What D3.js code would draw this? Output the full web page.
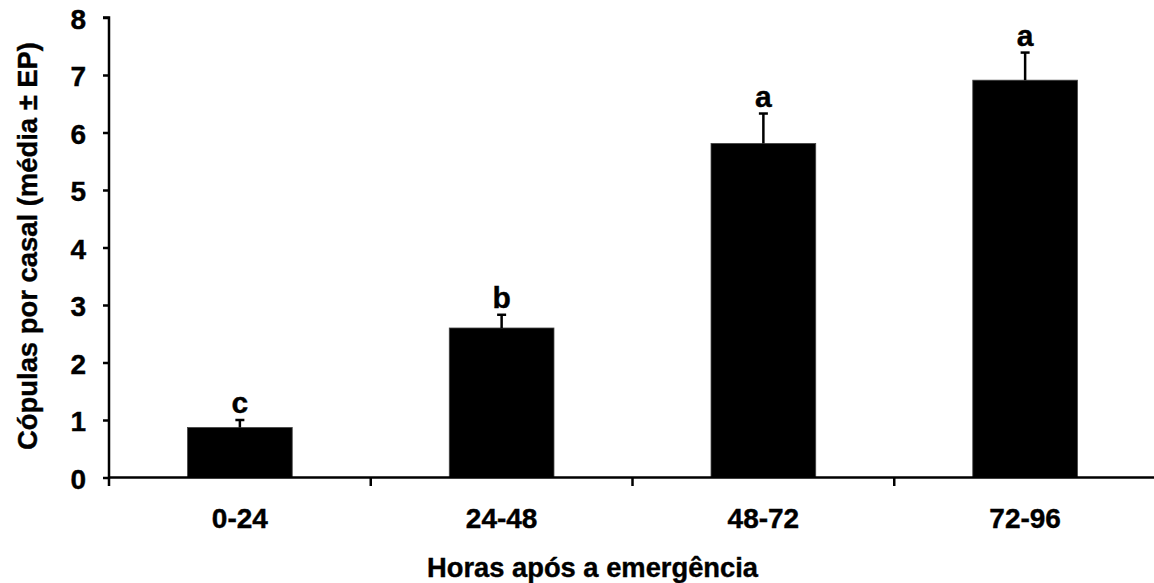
<!DOCTYPE html>
<html>
<head>
<meta charset="utf-8">
<script src="https://cdn.jsdelivr.net/npm/d3@7"></script>
<style>
  html, body { margin: 0; padding: 0; background: #fff; }
  svg { display: block; }
  text { font-family: "Liberation Sans", Arial, sans-serif; font-weight: bold; fill: #000; }
</style>
</head>
<body>
<svg id="chart" width="1154" height="583"></svg>
<script>
const categories = ["0-24", "24-48", "48-72", "72-96"];
const means = [0.87, 2.6, 5.81, 6.91];
const errors = [0.13, 0.23, 0.52, 0.48];
const letters = ["c", "b", "a", "a"];
const yTicks = [0, 1, 2, 3, 4, 5, 6, 7, 8];
const xTitle = "Horas após a emergência";
const yTitle = "Cópulas por casal (média ± EP)";

const data = categories.map((c, i) => ({ cat: c, mean: means[i], err: errors[i], letter: letters[i] }));

const svg = d3.select("#chart");
const plotLeft = 109, plotRight = 1156, plotTop = 17.5, plotBottom = 477.5;

const x = d3.scaleBand().domain(categories).range([plotLeft, plotRight]).paddingInner(0.6).paddingOuter(0.3);
const y = d3.scaleLinear().domain([0, 8]).range([plotBottom, plotTop]);

// bars
svg.append("g").selectAll("rect").data(data).join("rect")
  .attr("x", d => x(d.cat))
  .attr("y", d => y(d.mean))
  .attr("width", x.bandwidth())
  .attr("height", d => y(0) - y(d.mean))
  .attr("fill", "#000")
  .attr("stroke", "#444")
  .attr("stroke-width", 0.8);

// error bars
const eg = svg.append("g").attr("stroke", "#000").attr("stroke-width", 2.5);
data.forEach(d => {
  const cx = x(d.cat) + x.bandwidth() / 2;
  eg.append("line").attr("x1", cx).attr("x2", cx).attr("y1", y(d.mean)).attr("y2", y(d.mean + d.err));
  eg.append("line").attr("x1", cx - 4.5).attr("x2", cx + 4.5).attr("y1", y(d.mean + d.err)).attr("y2", y(d.mean + d.err));
});

// significance letters
svg.append("g").selectAll("text").data(data).join("text")
  .attr("x", d => x(d.cat) + x.bandwidth() / 2)
  .attr("y", d => y(d.mean + d.err) - 7)
  .attr("text-anchor", "middle")
  .style("font-size", "30px")
  .style("stroke", "#000").style("stroke-width", "0.4px")
  .text(d => d.letter);

// y axis
const yAxis = svg.append("g").attr("transform", `translate(${plotLeft},0)`)
  .call(d3.axisLeft(y).tickValues(yTicks).tickSize(6).tickPadding(17).tickFormat(d3.format("d")));
yAxis.select(".domain").attr("stroke", "#000").attr("stroke-width", 2.5).attr("d", `M-6,${plotTop}H0V${plotBottom + 8.5}`);
yAxis.selectAll(".tick line").attr("stroke", "#000").attr("stroke-width", 2.5);
yAxis.selectAll(".tick text")
  .style("font-size", "28px").style("font-family", "'Liberation Sans', Arial, sans-serif").style("font-weight", "bold")
  .style("stroke", "#000").style("stroke-width", "0.4px")
  .attr("dy", "0.38em");

// x axis (category boundary ticks)
const xAxisG = svg.append("g");
xAxisG.append("line").attr("x1", plotLeft).attr("x2", plotRight).attr("y1", plotBottom).attr("y2", plotBottom)
  .attr("stroke", "#000").attr("stroke-width", 2.5);
const step = x.step();
categories.forEach((c, i) => {
  const bx = x(c) + x.bandwidth() / 2 - step / 2;
  if (i > 0) {
    xAxisG.append("line").attr("x1", bx).attr("x2", bx).attr("y1", plotBottom).attr("y2", plotBottom + 8.5)
      .attr("stroke", "#000").attr("stroke-width", 2.5);
  }
});
xAxisG.selectAll("text.xlab").data(categories).join("text")
  .attr("class", "xlab")
  .attr("x", d => x(d) + x.bandwidth() / 2)
  .attr("y", 528)
  .attr("text-anchor", "middle")
  .style("font-size", "28px")
  .style("stroke", "#000").style("stroke-width", "0.4px")
  .text(d => d);

// titles
svg.append("text")
  .attr("x", 592.5).attr("y", 577)
  .attr("text-anchor", "middle")
  .style("font-size", "28px")
  .style("stroke", "#000").style("stroke-width", "0.4px")
  .attr("textLength", 331).attr("lengthAdjust", "spacingAndGlyphs")
  .text(xTitle);

svg.append("text")
  .attr("transform", "translate(37,246) rotate(-90)")
  .attr("text-anchor", "middle")
  .style("font-size", "28px")
  .style("stroke", "#000").style("stroke-width", "0.4px")
  .attr("textLength", 408).attr("lengthAdjust", "spacingAndGlyphs")
  .text(yTitle);
</script>
</body>
</html>
